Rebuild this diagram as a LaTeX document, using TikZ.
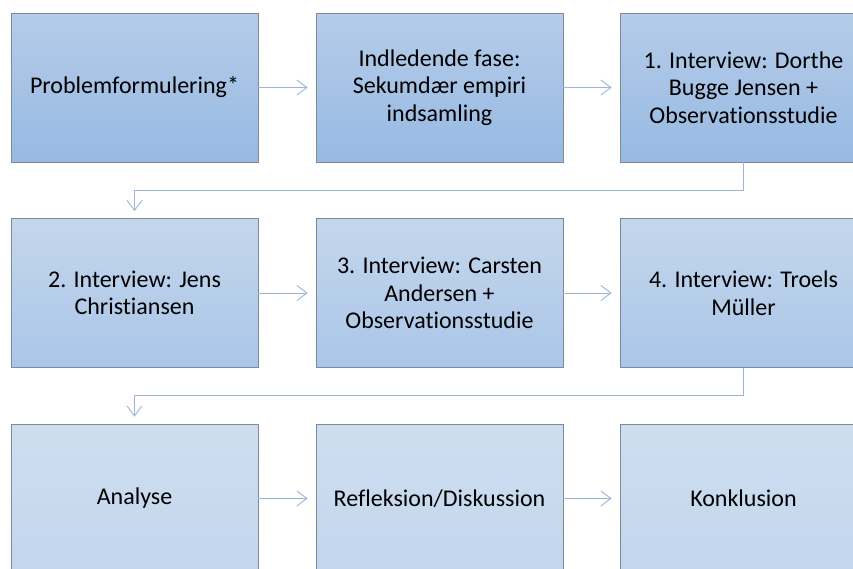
\documentclass[tikz,border=0pt]{standalone}
\usepackage{fontspec}
\setmainfont[RawFeature=-liga]{Carlito}
\usetikzlibrary{%
		arrows.meta%
		,positioning%
	}

\definecolor{rimgrey}{HTML}{7D8A98}
\definecolor{linkblue}{HTML}{9DB5D6}
\definecolor{rowatop}{HTML}{B5CCE8}
\definecolor{rowabot}{HTML}{97B9E3}
\definecolor{rowbtop}{HTML}{C4D6EC}
\definecolor{rowbbot}{HTML}{AAC6E8}
\definecolor{rowctop}{HTML}{CFDDEF}
\definecolor{rowcbot}{HTML}{C3D6EE}

\tikzset{
	stage/.style={draw=rimgrey, line width=0.8pt, minimum width=247pt, minimum height=149pt,
		inner sep=0pt, align=center, text=black,
		font=\fontsize{24}{27.5}\selectfont},
	stagea/.style={stage, top color=rowatop, bottom color=rowabot},
	stageb/.style={stage, top color=rowbtop, bottom color=rowbbot},
	stagec/.style={stage, top color=rowctop, bottom color=rowcbot},
	link/.style={draw=linkblue, line width=0.9pt, -{Straight Barb[length=10pt,width=15pt]}}
}

\begin{document}
\begin{tikzpicture}[x=1pt,y=-1pt]
			\useasboundingbox (0,0) rectangle (853,568);
			\clip (0,0) rectangle (853,568);

			\node[stagea] (probl) at (134.5,87.5) {Problemformulering*};
			\node[stagea] (indl) at (439.5,87.5) {Indledende fase:\\Sekumdær empiri\\indsamling};
			\node[stagea] (intA) at (743.5,87.5) {1. Interview: Dorthe\\Bugge Jensen +\\Observationsstudie};

			\node[stageb] (intB) at (134.5,293) {2. Interview: Jens\\Christiansen};
			\node[stageb] (intC) at (439.5,293) {3. Interview: Carsten\\Andersen +\\Observationsstudie};
			\node[stageb] (intD) at (743.5,293) {4. Interview: Troels\\Müller};

			\node[stagec] (anal) at (134.5,498.5) {Analyse};
			\node[stagec] (refl) at (439.5,498.5) {Refleksion/Diskussion};
			\node[stagec] (konkl) at (743.5,498.5) {Konklusion};

			\draw[link][shorten >=8pt] (probl.east) -- (indl.west);
			\draw[link][shorten >=8pt] (indl.east) -- (intA.west);
			\draw[link][shorten >=7pt] (intA.south) -- ++(0,28) -| (intB.north);

			\draw[link][shorten >=8pt] (intB.east) -- (intC.west);
			\draw[link][shorten >=8pt] (intC.east) -- (intD.west);
			\draw[link][shorten >=7pt] (intD.south) -- ++(0,28) -| (anal.north);

			\draw[link][shorten >=8pt] (anal.east) -- (refl.west);
			\draw[link][shorten >=8pt] (refl.east) -- (konkl.west);
		\end{tikzpicture}
\end{document}
